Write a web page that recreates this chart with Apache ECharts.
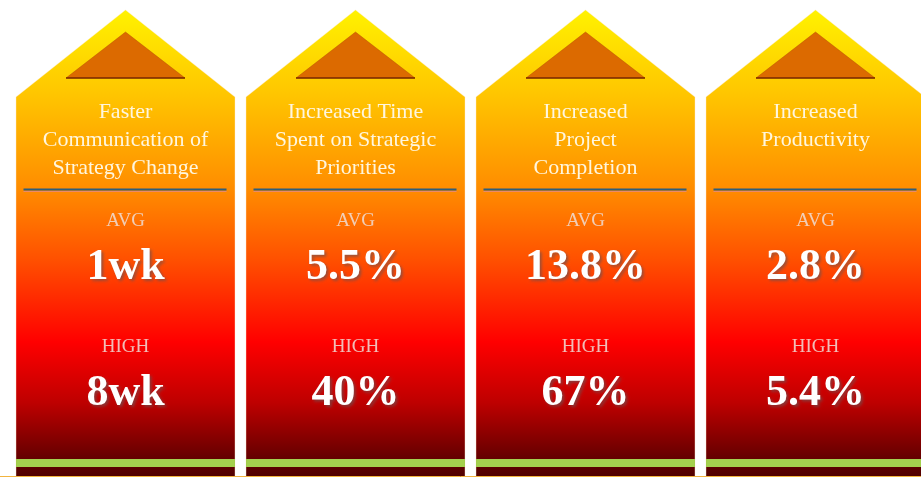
<!DOCTYPE html>
<html>
<head>
<meta charset="utf-8">
<script src="https://cdn.jsdelivr.net/npm/echarts@6/dist/echarts.min.js"></script>
<style>
html,body{margin:0;padding:0;background:#fff;}
#chart{width:921px;height:477px;}
</style>
</head>
<body>
<div id="chart"></div>
<script>
const categories = [
  'Faster\nCommunication of\nStrategy Change',
  'Increased Time\nSpent on Strategic\nPriorities',
  'Increased\nProject\nCompletion',
  'Increased\nProductivity'
];
const avgLabel = 'AVG';
const highLabel = 'HIGH';
const avgValues = ['1wk', '5.5%', '13.8%', '2.8%'];
const highValues = ['8wk', '40%', '67%', '5.4%'];

const chart = echarts.init(document.getElementById('chart'));

function bodyGradient() {
  return new echarts.graphic.LinearGradient(0, 0, 0, 1, [
    { offset: 0, color: '#FFF200' },
    { offset: 0.186, color: '#FFC400' },
    { offset: 0.385, color: '#FF8C00' },
    { offset: 0.535, color: '#FF5000' },
    { offset: 0.71, color: '#FF0000' },
    { offset: 0.84, color: '#BE0000' },
    { offset: 0.96, color: '#640000' },
    { offset: 1, color: '#500000' }
  ]);
}

function renderItem(params, api) {
  const idx = api.value(0);
  const cx = api.coord([idx, 0])[0];
  const band = api.size([1, 0])[0];
  const hw = band * 0.476;
  const Y = (v) => api.coord([idx, v])[1];
  const peak = Y(10), shoulder = Y(97), bottom = Y(477);
  const children = [];
  children.push({
    type: 'polygon',
    shape: { points: [[cx, peak], [cx + hw, shoulder], [cx + hw, bottom], [cx - hw, bottom], [cx - hw, shoulder]] },
    style: { fill: bodyGradient(), stroke: 'rgba(255,230,200,0.35)', lineWidth: 1 }
  });
  children.push({
    type: 'polygon',
    shape: { points: [[cx, Y(32)], [cx + 59.5, Y(78)], [cx - 59.5, Y(78)]] },
    style: { fill: '#DC6A00', stroke: 'rgba(170,70,0,0.5)', lineWidth: 0.8 }
  });
  children.push({
    type: 'line',
    shape: { x1: cx - 59.5, y1: Y(78), x2: cx + 59.5, y2: Y(78) },
    style: { stroke: '#7A2A00', lineWidth: 1.5 }
  });
  children.push({
    type: 'line',
    shape: { x1: cx - 102, y1: Y(189.5), x2: cx + 101, y2: Y(189.5) },
    style: { stroke: '#2C5D7C', lineWidth: 2 }
  });
  children.push({
    type: 'line',
    shape: { x1: cx - 102, y1: Y(191.5), x2: cx + 101, y2: Y(191.5) },
    style: { stroke: '#E98A6A', lineWidth: 1 }
  });
  children.push({
    type: 'rect',
    shape: { x: cx - hw, y: Y(459), width: hw * 2, height: Y(467) - Y(459) },
    style: { fill: '#A4D04E' }
  });
  children.push({
    type: 'text',
    style: {
      x: cx, y: Y(98), text: categories[idx], align: 'center', verticalAlign: 'top',
      fontFamily: '"Liberation Serif", serif', fontSize: 22, lineHeight: 28, fill: '#FFF6DE'
    }
  });
  const labStyle = { fontFamily: '"Liberation Serif", serif', fontSize: 19, fill: 'rgba(238,222,215,0.85)', align: 'center', verticalAlign: 'middle' };
  const valStyle = {
    fontFamily: '"Liberation Serif", serif', fontWeight: 'bold', fontSize: 44, fill: '#FFFFFF',
    align: 'center', verticalAlign: 'middle',
    textShadowColor: 'rgba(110,80,80,0.7)', textShadowBlur: 3, textShadowOffsetX: 2, textShadowOffsetY: 2
  };
  children.push({ type: 'text', style: Object.assign({ x: cx, y: Y(221), text: avgLabel }, labStyle) });
  children.push({ type: 'text', style: Object.assign({ x: cx, y: Y(268), text: avgValues[idx] }, valStyle) });
  children.push({ type: 'text', style: Object.assign({ x: cx, y: Y(347), text: highLabel }, labStyle) });
  children.push({ type: 'text', style: Object.assign({ x: cx, y: Y(394), text: highValues[idx] }, valStyle) });
  return { type: 'group', children: children };
}

chart.setOption({
  animation: false,
  backgroundColor: '#ffffff',
  grid: { left: 0, right: 0, top: 0, bottom: 0, containLabel: false },
  xAxis: { type: 'value', min: -0.5457, max: 3.4587, show: false },
  yAxis: { type: 'value', min: 0, max: 477, inverse: true, show: false },
  graphic: [{
    type: 'line', shape: { x1: 0, y1: 476.5, x2: 921, y2: 476.5 },
    style: { stroke: '#F2B440', lineWidth: 1 }, z: 100
  }],
  series: [{
    type: 'custom',
    renderItem: renderItem,
    clip: false,
    data: categories.map((c, i) => [i])
  }]
});
</script>
</body>
</html>
